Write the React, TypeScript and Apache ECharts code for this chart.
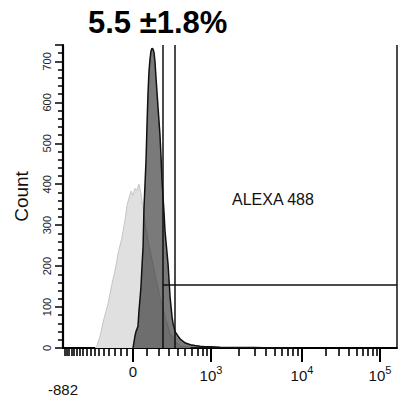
import React, { useEffect, useRef } from "react";
import * as echarts from "echarts";

// ---- data (raw fluorescence values / counts) ----
const darkValues = [0, 15, 22, 37, 44, 52, 59, 67, 75, 82, 90, 98, 105, 113, 121, 129, 137, 145, 154, 162, 170, 179, 196, 214, 223, 233, 242, 252, 261, 271, 292, 313, 335, 346, 369, 406, 432, 503, 581, 657, 751, 856, 1000, 1256, 2084, 3000, 5000, 8000];
const darkCounts = [0, 30, 40, 53, 90, 120, 149, 200, 246, 342, 400, 460, 540, 620, 675, 705, 725, 732, 730, 722, 700, 660, 590, 520, 470, 408, 370, 330, 287, 260, 205, 125, 75, 60, 40, 29, 22, 12, 8, 6, 4, 3, 3, 2, 1, 1, 0, 0];

const lightValues = [-340, -318, -285, -245, -206, -170, -143, -118, -86, -62, -46, -31, -15, 0, 15, 30, 44, 59, 75, 90, 113, 145, 179, 214, 261, 313, 369, 432, 581];
const lightCounts = [0, 6, 29, 72, 108, 157, 190, 231, 270, 313, 349, 366, 383, 373, 390, 385, 400, 378, 342, 306, 263, 217, 169, 125, 77, 36, 17, 5, 1];

const gateLeft = 242;
const gateInner = 369;
const gateLevel = 154;

const xLabelValues = [-882, 0, 1000, 10000, 100000];
const xMajorTicks = [0, 1000, 10000, 100000];
const xMinorTicks = [
  -850, -800, -750, -700, -650, -600, -550, -500, -450, -400, -350, -300, -250, -200, -150, -100, -50,
  100, 200, 300, 400, 500, 600, 700, 800, 900,
  2000, 3000, 4000, 5000, 6000, 7000, 8000, 9000,
  20000, 30000, 40000, 50000, 60000, 70000, 80000, 90000,
];

const yMax = 740;

// biexponential-like display transform
const W = 300;
function T(v: number): number {
  if (v <= 0) return 70 + (70 * Math.asinh(v / W)) / Math.asinh(882 / W);
  if (v <= 1000) return 70 + (78 * Math.asinh(v / W)) / Math.asinh(1000 / W);
  if (v <= 1e4) return 148 + 91 * (Math.log10(v) - 3);
  return 239 + 78 * (Math.log10(v) - 4);
}
const X_MIN = T(-882);
const X_MAX = 334;

const FONT = '"Liberation Sans", Arial, sans-serif';

function labelFor(d: number): string {
  let best = xLabelValues[0];
  let bd = Infinity;
  for (const v of xLabelValues) {
    const dd = Math.abs(T(v) - d);
    if (dd < bd) {
      bd = dd;
      best = v;
    }
  }
  if (best === -882) return "{low|-882}";
  if (best === 0) return "{b|0}";
  const e = Math.round(Math.log10(best));
  return "{b|10}{s|" + e + "}";
}

export default function App() {
  const ref = useRef<HTMLDivElement>(null);
  useEffect(() => {
    if (!ref.current) return;
    const chart = echarts.init(ref.current, undefined, { renderer: "svg" });
    const xCommon = {
      type: "value",
      min: X_MIN,
      max: X_MAX,
      position: "bottom",
      splitLine: { show: false },
    };
    chart.setOption({
      animation: false,
      backgroundColor: "#fff",
      title: {
        text: "5.5 ±1.8%",
        left: 83,
        top: 2,
        textStyle: { fontSize: 31, fontWeight: "bold", color: "#000", fontFamily: FONT },
      },
      grid: { left: 63, right: 2, top: 45, bottom: 45 },
      xAxis: [
        {
          ...xCommon,
          axisLine: { show: true, lineStyle: { color: "#000", width: 2.2 } },
          axisTick: {
            show: true,
            customValues: xMajorTicks.map(T),
            length: 14,
            lineStyle: { color: "#000", width: 2 },
          },
          axisLabel: {
            show: true,
            customValues: xLabelValues.map(T),
            margin: 16,
            formatter: (v: number) => labelFor(v),
            rich: {
              b: { fontSize: 15, color: "#111", fontFamily: FONT },
              s: { fontSize: 11, color: "#111", fontFamily: FONT, padding: [0, 0, 12, 0] },
              low: { fontSize: 15, color: "#111", fontFamily: FONT, padding: [18, 0, 0, 0] },
            },
          },
        },
        {
          ...xCommon,
          axisLine: { show: false },
          axisTick: {
            show: true,
            customValues: xMinorTicks.map(T),
            length: 8,
            lineStyle: { color: "#000", width: 1.6 },
          },
          axisLabel: { show: false },
        },
      ],
      yAxis: {
        type: "value",
        min: 0,
        max: yMax,
        interval: 100,
        name: "Count",
        nameLocation: "middle",
        nameGap: 32,
        nameRotate: 90,
        nameTextStyle: { fontSize: 19, color: "#111", fontFamily: FONT },
        splitLine: { show: false },
        axisLine: { show: true, lineStyle: { color: "#000", width: 2.2 } },
        axisTick: { show: true, length: 8, lineStyle: { color: "#000", width: 1.5 } },
        minorTick: { show: true, splitNumber: 5, length: 5, lineStyle: { color: "#000", width: 1.5 } },
        axisLabel: {
          rotate: 90,
          fontSize: 11,
          color: "#222",
          fontFamily: FONT,
          margin: 11,
          showMaxLabel: false,
        },
      },
      graphic: [
        {
          type: "text",
          left: 232,
          top: 191,
          style: { text: "ALEXA 488", fontSize: 16, fill: "#111", fontFamily: FONT },
        },
      ],
      series: [
        {
          type: "line",
          name: "control",
          data: lightValues.map((v, i) => [T(v), lightCounts[i]]),
          showSymbol: false,
          symbol: "none",
          lineStyle: { color: "#c4c4c4", width: 1 },
          areaStyle: { color: "#e0e0e0", opacity: 1 },
          silent: true,
          z: 1,
        },
        {
          type: "line",
          name: "sample",
          data: darkValues.map((v, i) => [T(v), darkCounts[i]]),
          showSymbol: false,
          symbol: "none",
          lineStyle: { color: "#111", width: 1.5 },
          areaStyle: { color: "rgba(40,40,40,0.62)", opacity: 1 },
          silent: true,
          z: 2,
        },
        {
          type: "line",
          name: "gates",
          data: [],
          silent: true,
          z: 3,
          markLine: {
            silent: true,
            symbol: "none",
            label: { show: false },
            lineStyle: { color: "#111", width: 1.5, type: "solid" },
            data: [
              [{ coord: [T(gateLeft), 0] }, { coord: [T(gateLeft), yMax] }],
              [{ coord: [T(gateInner), 0] }, { coord: [T(gateInner), yMax] }],
              [{ coord: [T(gateLeft), gateLevel] }, { coord: [X_MAX, gateLevel] }],
              [{ coord: [X_MAX - 0.7, 0] }, { coord: [X_MAX - 0.7, yMax] }],
            ],
          },
        },
      ],
    });
    return () => chart.dispose();
  }, []);
  return <div ref={ref} style={{ position: "fixed", left: 0, top: 0, width: 399, height: 397 }} />;
}
